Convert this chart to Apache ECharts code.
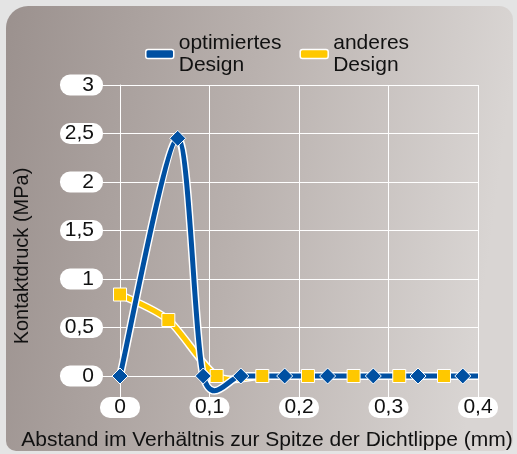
<!DOCTYPE html>
<html>
<head>
<meta charset="utf-8">
<script src="https://cdn.jsdelivr.net/npm/echarts@6/dist/echarts.min.js"></script>
<style>
  html, body { margin: 0; padding: 0; background: #e4e4e4; }
  #chart { width: 517px; height: 454px; }
</style>
</head>
<body>
<div id="chart"></div>
<script>
// Contact pressure along the seal lip: optimised vs. alternative design
const seriesNames = ['optimiertes\nDesign', 'anderes\nDesign'];

const xOptimiert = [0, 0.0645, 0.093, 0.135, 0.184, 0.232, 0.283, 0.333, 0.383, 0.4];
const yOptimiert = [0, 2.45, 0, 0, 0, 0, 0, 0, 0, 0];

const xAnderes = [0, 0.054, 0.108, 0.159, 0.21, 0.261, 0.312, 0.362, 0.4];
const yAnderes = [0.84, 0.577, 0, 0, 0, 0, 0, 0, 0];

// the last entry of each series only closes the line at the axis end (no marker)
const markerCountOptimiert = 9;
const markerCountAnderes = 8;

const yTickLabels = ['0', '0,5', '1', '1,5', '2', '2,5', '3'];
const xTickLabels = ['0', '0,1', '0,2', '0,3', '0,4'];

const BLUE = '#0050a2';
const YELLOW = '#ffc800';
const FONT = '"Liberation Sans", Arial, Helvetica, sans-serif';
const TENSION = 0.14;

const pairs = (xs, ys) => xs.map((x, i) => [x, ys[i]]);

// Cardinal spline through the data points, in pixel space via the axes
function splinePath(api, xs, ys) {
  const p = xs.map((x, i) => api.coord([x, ys[i]]));
  const n = p.length;
  let d = 'M' + p[0][0] + ',' + p[0][1];
  for (let i = 0; i < n - 1; i++) {
    const p0 = p[Math.max(i - 1, 0)];
    const p1 = p[i];
    const p2 = p[i + 1];
    const p3 = p[Math.min(i + 2, n - 1)];
    const c1x = p1[0] + TENSION * (p2[0] - p0[0]);
    const c1y = p1[1] + TENSION * (p2[1] - p0[1]);
    const c2x = p2[0] - TENSION * (p3[0] - p1[0]);
    const c2y = p2[1] - TENSION * (p3[1] - p1[1]);
    d += ' C' + c1x + ',' + c1y + ' ' + c2x + ',' + c2y + ' ' + p2[0] + ',' + p2[1];
  }
  return d;
}

function curveSeries(name, xs, ys, color, z) {
  return {
    type: 'custom',
    name: name,
    z: z,
    silent: true,
    clip: false,
    data: pairs(xs, ys),
    encode: { x: 0, y: 1 },
    itemStyle: { color: color },
    renderItem: function (params, api) {
      if (params.dataIndex !== 0) return null;
      const d = splinePath(api, xs, ys);
      return {
        type: 'group',
        children: [
          { type: 'path', shape: { pathData: d },
            style: { fill: 'none', stroke: '#fff', lineWidth: 8, lineJoin: 'round' } },
          { type: 'path', shape: { pathData: d },
            style: { fill: 'none', stroke: color, lineWidth: 5, lineJoin: 'round' } }
        ]
      };
    }
  };
}

const chart = echarts.init(document.getElementById('chart'), null, { renderer: 'canvas' });

chart.setOption({
  animation: false,
  textStyle: { fontFamily: FONT },
  graphic: [
    {
      type: 'rect',
      z: -10,
      silent: true,
      shape: { x: 6, y: 6, width: 507, height: 445, r: [22, 14, 10, 10] },
      style: {
        fill: new echarts.graphic.LinearGradient(0, 0, 1, 0.15, [
          { offset: 0, color: '#9b918e' },
          { offset: 0.5, color: '#b9b1ae' },
          { offset: 1, color: '#d9d5d3' }
        ])
      }
    },
    {
      type: 'text',
      silent: true,
      x: 22, y: 256,
      rotation: Math.PI / 2,
      style: {
        text: 'Kontaktdruck (MPa)',
        font: '20px ' + FONT,
        fill: '#111',
        align: 'center',
        verticalAlign: 'middle'
      }
    },
    {
      type: 'text',
      silent: true,
      x: 267, y: 440,
      style: {
        text: 'Abstand im Verhältnis zur Spitze der Dichtlippe (mm)',
        font: '21px ' + FONT,
        fill: '#111',
        align: 'center',
        verticalAlign: 'middle'
      }
    }
  ],
  legend: {
    left: 140,
    top: 27,
    itemWidth: 28,
    itemHeight: 9,
    itemGap: 18,
    icon: 'roundRect',
    selectedMode: false,
    textStyle: { fontSize: 21, lineHeight: 22, color: '#111', fontFamily: FONT },
    data: [
      { name: seriesNames[0], itemStyle: { color: BLUE, borderColor: '#fff', borderWidth: 1.5 } },
      { name: seriesNames[1], itemStyle: { color: YELLOW, borderColor: '#fff', borderWidth: 1.5 } }
    ]
  },
  grid: { left: 120, right: 39, top: 85, bottom: 78, containLabel: false },
  xAxis: {
    type: 'value',
    min: 0, max: 0.4, interval: 0.1,
    axisLine: { show: true, lineStyle: { color: '#fff', width: 1 } },
    axisTick: { show: true, length: 21, lineStyle: { color: '#fff', width: 1 } },
    splitLine: { show: true, lineStyle: { color: '#fff', width: 1 } },
    axisLabel: {
      formatter: v => xTickLabels[Math.round(v / 0.1)],
      margin: 21,
      fontSize: 21,
      color: '#111',
      fontFamily: FONT,
      backgroundColor: '#fff',
      borderRadius: 10,
      width: 28,
      align: 'center',
      padding: [0, 6, 0, 6]
    }
  },
  yAxis: {
    type: 'value',
    min: 0, max: 3, interval: 0.5,
    axisLine: { show: true, lineStyle: { color: '#fff', width: 1 } },
    axisTick: { show: true, length: 17, lineStyle: { color: '#fff', width: 1 } },
    splitLine: { show: true, lineStyle: { color: '#fff', width: 1 } },
    axisLabel: {
      formatter: v => yTickLabels[Math.round(v / 0.5)],
      margin: 17,
      fontSize: 21,
      color: '#111',
      fontFamily: FONT,
      backgroundColor: '#fff',
      borderRadius: 10,
      width: 30,
      align: 'right',
      padding: [0, 9, 0, 4]
    }
  },
  series: [
    curveSeries(seriesNames[1], xAnderes, yAnderes, YELLOW, 1),
    curveSeries(seriesNames[0], xOptimiert, yOptimiert, BLUE, 2),
    {
      type: 'scatter', name: seriesNames[1], z: 3, silent: true, clip: false,
      symbol: 'rect', symbolSize: 13,
      data: pairs(xAnderes, yAnderes).slice(0, markerCountAnderes),
      itemStyle: { color: YELLOW, borderColor: '#fff', borderWidth: 1, opacity: 1 }
    },
    {
      type: 'scatter', name: seriesNames[0], z: 4, silent: true, clip: false,
      symbol: 'diamond', symbolSize: 16,
      data: pairs(xOptimiert, yOptimiert).slice(0, markerCountOptimiert),
      itemStyle: { color: BLUE, borderColor: '#fff', borderWidth: 1, opacity: 1 }
    }
  ]
});
</script>
</body>
</html>
